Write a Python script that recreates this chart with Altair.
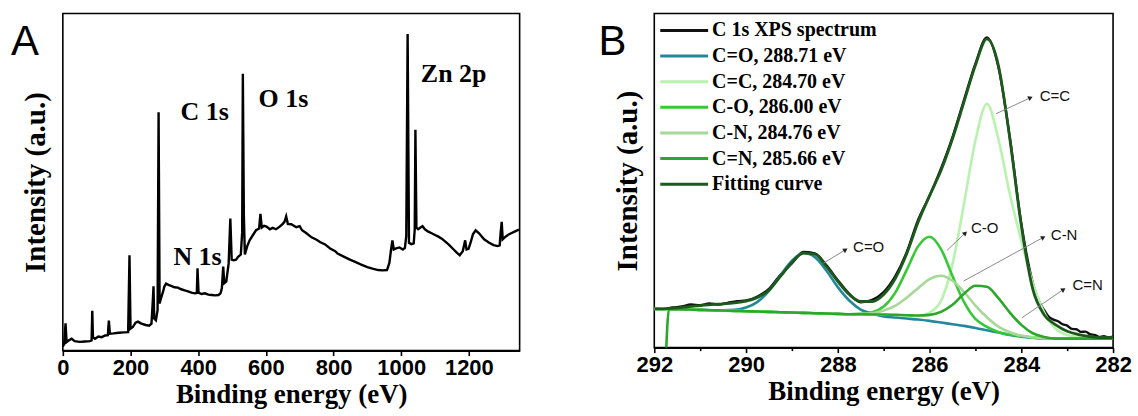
import math
import altair as alt
import pandas as pd

SERIF = "Liberation Serif"
SANS = "Liberation Sans"

# ---------------- Panel A : survey spectrum ----------------
survey_ev = [0, 4, 8, 11, 16, 26, 35, 50, 65, 80, 85, 87, 89, 95, 105, 115, 125, 133, 136, 139,
             150, 165, 180, 193, 197, 200, 207, 215, 222, 232, 245, 255, 262, 266, 268, 270, 275,
             280, 283, 286, 290, 296, 300, 305, 312, 320, 330, 340, 350, 360, 370, 380, 390, 396,
             398, 401, 410, 420, 430, 440, 450, 460, 466, 470, 474, 477, 483, 490, 495, 499, 505,
             512, 518, 526, 530, 532, 535, 538, 545, 552, 560, 571, 580, 584, 588, 595, 602, 612,
             620, 630, 640, 650, 655, 660, 665, 675, 690, 700, 707, 720, 735, 750, 760, 775, 790,
             805, 812, 830, 850, 864, 880, 900, 915, 932, 945, 958, 965, 970, 974, 978, 985, 995,
             1005, 1011, 1015, 1019, 1023, 1030, 1037, 1040, 1042, 1045, 1050, 1057, 1063, 1070,
             1080, 1090, 1100, 1110, 1120, 1126, 1140, 1155, 1165, 1173, 1182, 1189, 1193, 1199,
             1205, 1212, 1220, 1230, 1245, 1260, 1273, 1285, 1291, 1294, 1297, 1300, 1305, 1315,
             1325, 1335, 1348]
survey_int = [1.2, 2.0, 8.1, 2.5, 2.9, 3.5, 2.8, 2.6, 2.7, 2.8, 3.0, 11.8, 4.0, 3.5, 4.2, 4.0, 4.5,
              4.6, 8.9, 5.0, 5.1, 5.3, 5.4, 5.5, 28.3, 6.5, 7.0, 8.3, 8.6, 8.0, 7.6, 7.4, 8.0, 15.0,
              19.1, 9.5, 9.0, 12.0, 70.7, 14.0, 15.5, 17.4, 19.0, 19.9, 19.5, 19.2, 18.8, 18.7,
              18.2, 17.9, 17.6, 17.2, 17.0, 17.1, 24.4, 17.2, 16.8, 17.0, 16.6, 16.5, 16.4, 16.5,
              17.0, 18.5, 24.9, 20.0, 20.5, 25.8, 39.2, 27.0, 26.8, 27.0, 27.8, 28.5, 35.0, 82.1,
              40.0, 28.5, 31.0, 32.7, 34.0, 35.7, 36.2, 40.6, 36.5, 37.0, 36.8, 36.0, 36.4, 36.0,
              36.7, 37.6, 38.2, 39.8, 37.6, 37.5, 36.6, 36.9, 35.7, 34.8, 33.6, 32.9, 32.2, 31.5,
              30.3, 29.5, 28.8, 27.9, 26.9, 26.3, 25.6, 24.8, 24.3, 23.9, 23.8, 23.9, 26.0, 30.0,
              32.7, 30.0, 30.3, 30.6, 30.0, 30.5, 34.0, 93.9, 32.0, 31.6, 31.8, 36.0, 65.5, 36.5,
              36.0, 36.5, 36.9, 36.0, 35.3, 34.8, 34.3, 33.8, 33.2, 32.7, 31.5, 30.0, 29.0, 28.3,
              29.5, 32.7, 30.0, 30.2, 32.0, 34.5, 35.7, 34.8, 33.0, 32.0, 31.3, 31.0, 31.2, 35.0,
              38.2, 33.0, 33.5, 34.3, 34.8, 35.3, 35.9]
a_ticks = [0, 100, 200, 300, 400, 500, 600, 700, 800, 900, 1000, 1100, 1200, 1300]
a_peak_labels = ["C 1s", "O 1s", "N 1s", "Zn 2p"]
a_peak_x = [419, 652, 398, 1155]
a_peak_y = [68.4, 72.2, 25.3, 79.6]

# ---------------- Panel B : C 1s high resolution ----------------
spectrum_x = [292.0, 291.8, 291.6, 291.4, 291.2, 291.0, 290.8, 290.6, 290.4, 290.2, 290.0,
              289.75, 289.5, 289.25, 289.0, 288.75, 288.5, 288.25, 288.0, 287.75, 287.5, 287.25,
              287.0, 286.75, 286.5, 286.25, 286.0, 285.75, 285.5, 285.25, 285.0, 284.75, 284.5,
              284.25, 284.0, 283.75, 283.6, 283.5, 283.4, 283.3, 283.2, 283.1, 283.0, 282.9,
              282.8, 282.7, 282.6, 282.5, 282.4, 282.3, 282.2, 282.1, 282.0]
spectrum = [11.8, 11.5, 12.0, 12.3, 12.9, 12.7, 13.2, 12.9, 13.4, 13.9, 14.1,
            15.3, 17.6, 21.8, 25.2, 28.6, 28.2, 24.7, 20.2, 16.1, 13.6, 14.3, 16.6, 21.3, 28.5,
            38.2, 45.4, 53.6, 63.0, 74.1, 85.0, 92.8, 84.0, 62.9, 37.2, 19.4,
            13.5, 11.2, 9.2, 8.4, 7.9, 7.0, 6.6, 5.6, 5.5, 4.7, 4.8, 4.0, 3.8, 3.2, 3.4, 3.1, 3.3]
b_x = [292.0, 291.75, 291.5, 291.25, 291.0, 290.75, 290.5, 290.25, 290.0, 289.75, 289.5, 289.25,
       289.0, 288.75, 288.5, 288.25, 288.0, 287.75, 287.5, 287.25, 287.0, 286.75, 286.5, 286.25,
       286.0, 285.75, 285.5, 285.25, 285.0, 284.75, 284.5, 284.25, 284.0, 283.75, 283.5, 283.25,
       283.0, 282.75, 282.5, 282.25, 282.0]
fit_curve = [11.6, 11.7, 11.9, 12.3, 12.6, 12.9, 13.1, 13.4, 13.9, 15.0, 17.2, 21.3, 25.5, 28.3,
             28.0, 24.3, 19.8, 15.9, 13.8, 13.8, 15.9, 20.6, 28.0, 37.5, 45.5, 53.0, 62.5, 73.5,
             84.5, 92.4, 84.5, 62.5, 36.5, 17.5, 9.8, 6.8, 4.9, 3.9, 3.3, 3.0, 3.0]
c_eq_o = [11.6, 11.5, 11.5, 11.4, 11.3, 11.2, 11.2, 11.3, 12.0, 13.7, 17.0, 21.6, 26.0, 28.3,
          27.1, 23.1, 18.1, 14.1, 11.4, 10.2, 9.3, 9.0, 8.7, 8.4, 8.0, 7.5, 7.0, 6.5, 5.9, 5.2,
          4.5, 3.8, 3.3, 3.0, 2.8, 2.7, 2.7, 2.7, 2.7, 2.7, 2.7]
c_eq_c = [11.6, 11.5, 11.5, 11.4, 11.3, 11.2, 11.1, 11.0, 10.9, 10.8, 10.7, 10.6, 10.5, 10.4,
          10.3, 10.2, 10.1, 10.0, 10.0, 9.9, 9.9, 9.8, 9.7, 9.5, 10.5, 14.0, 25.0, 43.0, 62.0,
          73.0, 62.5, 46.0, 32.0, 19.3, 10.5, 5.6, 3.8, 3.2, 2.9, 2.9, 2.9]
c_o = [11.6, 11.5, 11.5, 11.4, 11.3, 11.2, 11.1, 11.0, 10.9, 10.8, 10.7, 10.6, 10.5, 10.4, 10.3,
       10.2, 10.1, 10.0, 10.1, 10.6, 12.3, 16.4, 23.2, 30.3, 33.2, 29.5, 21.4, 13.7, 8.6, 6.2,
       4.7, 3.9, 3.4, 3.0, 2.8, 2.7, 2.7, 2.7, 2.7, 2.7, 2.7]
c_n = [11.6, 11.5, 11.5, 11.4, 11.3, 11.2, 11.1, 11.0, 10.9, 10.8, 10.7, 10.6, 10.5, 10.4, 10.3,
       10.2, 10.1, 10.0, 10.1, 10.3, 11.1, 12.5, 14.9, 17.8, 20.5, 21.5, 20.0, 16.7, 12.6, 9.1,
       6.3, 4.6, 3.6, 3.1, 2.8, 2.7, 2.7, 2.7, 2.7, 2.7, 2.7]
c_eq_n_x = [291.76, 291.68, 291.5, 291.25, 291.0, 290.75, 290.5, 290.25, 290.0, 289.75, 289.5,
            289.25, 289.0, 288.75, 288.5, 288.25, 288.0, 287.75, 287.5, 287.25, 287.0, 286.75,
            286.5, 286.25, 286.0, 285.75, 285.5, 285.25, 285.0, 284.75, 284.5, 284.25, 284.0,
            283.75, 283.5, 283.25, 283.0, 282.75, 282.5, 282.25, 282.0]
c_eq_n = [-8.0, 11.5, 11.5, 11.4, 11.3, 11.2, 11.1, 11.0, 10.9, 10.8, 10.7, 10.6, 10.5, 10.4,
          10.3, 10.2, 10.1, 10.0, 10.0, 9.9, 9.9, 9.8, 9.7, 9.6, 9.8, 10.7, 12.8, 16.1, 18.5,
          18.2, 14.8, 10.5, 6.8, 4.3, 3.2, 2.7, 2.7, 2.7, 2.7, 2.7, 2.7]

legend_names = ["C 1s XPS spectrum", "C=O, 288.71 eV", "C=C, 284.70 eV", "C-O, 286.00 eV",
                "C-N, 284.76 eV", "C=N, 285.66 eV", "Fitting curve"]
legend_colors = ["#111111", "#23889a", "#b8f2ae", "#36c936", "#a6d897", "#2aa82a", "#1c5a1c"]

b_ticks = [282, 283, 284, 285, 286, 287, 288, 289, 290, 291, 292]
ann_labels = ["C=O", "C-O", "C-N", "C=C", "C=N"]
ann_x0 = [288.31, 285.62, 285.26, 284.55, 283.99]
ann_y0 = [25.3, 29.1, 19.9, 70.0, 8.9]
ann_x1 = [287.83, 285.22, 283.52, 283.80, 283.08]
ann_y1 = [29.3, 34.3, 33.0, 74.8, 17.4]
ann_tx = [287.71, 285.14, 283.40, 283.64, 282.93]
ann_ty = [30.1, 35.7, 33.8, 75.2, 18.6]

# ---------------- build chart ----------------
WA, HA = 458, 338
WB, HB = 460, 335


def x_axis(ticks, step):
    return alt.Axis(values=ticks, format="d", title="Binding energy (eV)",
                    labelExpr=f"datum.value % {step} === 0 ? datum.label : ''",
                    tickSize={"condition": {"test": f"datum.value % {step} === 0", "value": 5},
                              "value": 3},
                    labelPadding=2, titlePadding=3, labelFlush=False, labelOverlap=False,
                    grid=False, labelFontSize=22, titleFontSize=27)


def y_axis():
    return alt.Axis(title="Intensity (a.u.)", labels=False, ticks=False, domain=False,
                    grid=False, titlePadding=12, titleFontSize=29)


df_a = pd.DataFrame({"ev": survey_ev, "intensity": survey_int})
xA = alt.X("ev:Q", scale=alt.Scale(domain=[0, 1350], nice=False, zero=False),
           axis=x_axis(a_ticks, 200))
yA = alt.Y("intensity:Q", scale=alt.Scale(domain=[0, 100], nice=False, zero=False), axis=y_axis())

line_a = alt.Chart(df_a).mark_line(color="#000000", strokeWidth=2.4, clip=True).encode(x=xA, y=yA)
df_alab = pd.DataFrame({"label": a_peak_labels, "x": a_peak_x, "y": a_peak_y})
text_a = alt.Chart(df_alab).mark_text(font=SERIF, fontSize=26, fontWeight="bold", color="#000000",
                                      align="center", baseline="alphabetic").encode(
    x=alt.X("x:Q"), y=alt.Y("y:Q"), text="label:N")
letter_a = alt.Chart(pd.DataFrame({"t": ["A"]})).mark_text(
    font=SANS, fontSize=42, align="left", baseline="alphabetic", x=-52, y=42, color="#000000"
).encode(text="t:N")
chart_a = alt.layer(line_a, text_a, letter_a).properties(width=WA, height=HA)

xB_scale = alt.Scale(domain=[282, 292], reverse=True, nice=False, zero=False)
yB_scale = alt.Scale(domain=[0, 100], nice=False, zero=False)
xB = alt.X("x:Q", scale=xB_scale, axis=x_axis(b_ticks, 2))
yB = alt.Y("y:Q", scale=yB_scale, axis=y_axis())

series = [
    (spectrum_x, spectrum, legend_colors[0], 2.4),
    (b_x, c_eq_o, legend_colors[1], 2.6),
    (b_x, c_eq_c, legend_colors[2], 2.6),
    (b_x, c_o, legend_colors[3], 2.6),
    (b_x, c_n, legend_colors[4], 2.6),
    (c_eq_n_x, c_eq_n, legend_colors[5], 2.6),
    (b_x, fit_curve, legend_colors[6], 2.8),
]
layers_b = []
for xs, ys, col, sw in series:
    d = pd.DataFrame({"x": xs, "y": ys})
    layers_b.append(alt.Chart(d).mark_line(color=col, strokeWidth=sw, clip=True,
                                           interpolate="monotone").encode(x=xB, y=yB))

px_x = WB / 10.0
px_y = HB / 100.0
angles = []
for x0, y0, x1, y1 in zip(ann_x0, ann_y0, ann_x1, ann_y1):
    dxp = (x0 - x1) * px_x
    dyp = (y1 - y0) * px_y
    angles.append((90 - math.degrees(math.atan2(dyp, dxp))) % 360)
df_ann = pd.DataFrame({"label": ann_labels, "x0": ann_x0, "y0": ann_y0, "x1": ann_x1,
                       "y1": ann_y1, "tx": ann_tx, "ty": ann_ty, "angle": angles})
arrow_lines = alt.Chart(df_ann).mark_rule(color="#8a8a8a", strokeWidth=1).encode(
    x=alt.X("x0:Q", scale=xB_scale), x2="x1:Q", y=alt.Y("y0:Q", scale=yB_scale), y2="y1:Q")
arrow_heads = alt.Chart(df_ann).mark_point(shape="triangle-up", filled=True, size=28,
                                           color="#222222", opacity=1).encode(
    x=alt.X("x1:Q", scale=xB_scale), y=alt.Y("y1:Q", scale=yB_scale),
    angle=alt.Angle("angle:Q", scale=None))
arrow_text = alt.Chart(df_ann).mark_text(font=SANS, fontSize=15, align="left", baseline="middle",
                                         color="#111111", dx=2).encode(
    x=alt.X("tx:Q", scale=xB_scale), y=alt.Y("ty:Q", scale=yB_scale), text="label:N")
layers_b += [arrow_lines, arrow_heads, arrow_text]

for i, (name, col) in enumerate(zip(legend_names, legend_colors)):
    yy = 17 + 25.7 * i
    dl = pd.DataFrame({"name": [name]})
    layers_b.append(alt.Chart(dl).mark_rule(color=col, strokeWidth=3).encode(
        x=alt.value(6), x2=alt.value(54), y=alt.value(yy)))
    layers_b.append(alt.Chart(dl).mark_text(font=SERIF, fontSize=20, fontWeight="bold",
                                            align="left", baseline="middle", color="#000000").encode(
        text="name:N", x=alt.value(58), y=alt.value(yy)))

letter_b = alt.Chart(pd.DataFrame({"t": ["B"]})).mark_text(
    font=SANS, fontSize=42, align="left", baseline="alphabetic", x=-56, y=42, color="#000000"
).encode(text="t:N")
layers_b.append(letter_b)
chart_b = alt.layer(*layers_b).properties(width=WB, height=HB)

chart = alt.hconcat(chart_a, chart_b, spacing=77).properties(
    padding={"left": 10, "top": 12, "right": 5, "bottom": 0}, background="white"
).configure_view(stroke="#000000", strokeWidth=1.6).configure_axis(
    grid=False,
    titleFont=SERIF, titleFontWeight="bold", titleColor="#000000",
    labelFont=SANS, labelFontWeight="bold", labelColor="#000000",
    domainColor="#000000", domainWidth=1.6, tickColor="#000000", tickWidth=1.6,
)

chart.save("out.html", embed_options={"renderer": "svg", "actions": False})
